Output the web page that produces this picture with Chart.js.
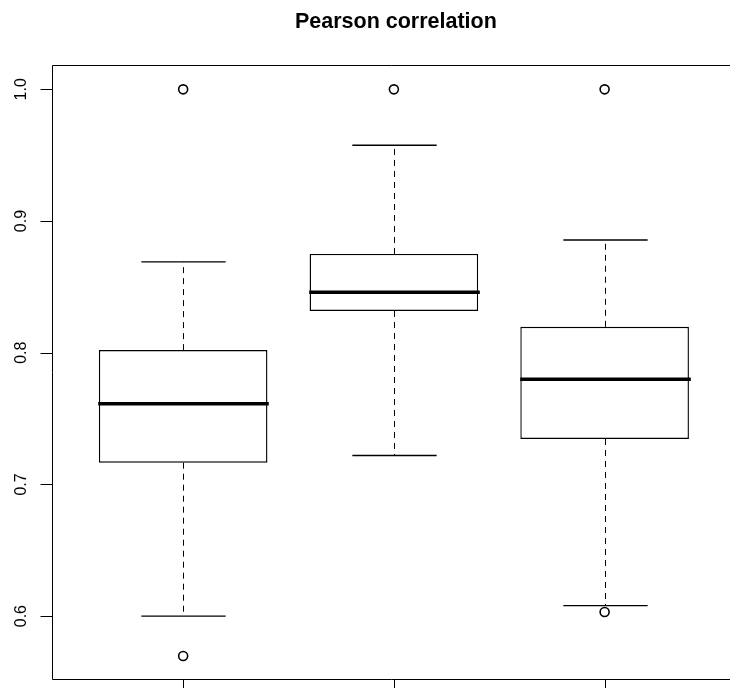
<!DOCTYPE html>
<html>
<head>
<meta charset="utf-8">
<title>Pearson correlation</title>
<script src="https://cdn.jsdelivr.net/npm/chart.js@4"></script>
<style>
  html, body { margin: 0; padding: 0; background: #fff; }
  canvas { display: block; }
</style>
</head>
<body>
<canvas id="boxChart" width="730" height="688"></canvas>
<script>
// Box statistics per group
const positions = [1, 2, 3];
const lowerWhisker = [0.600, 0.722, 0.608];
const q1 = [0.7165, 0.8317, 0.7345];
const medians = [0.7613, 0.8459, 0.7798];
const q3 = [0.802, 0.875, 0.8197];
const upperWhisker = [0.869, 0.9576, 0.8856];
const outliers = [[1.0, 0.5697], [1.0], [1.0, 0.6031]];
const yTicks = [0.6, 0.7, 0.8, 0.9, 1.0];
const titleText = 'Pearson correlation';

// Whiskers, staples and medians drawn on top of the box bars
const boxplotParts = {
    id: 'boxplotParts',
    afterDatasetsDraw(chart) {
        const { ctx, scales: { x, y } } = chart;
        const boxes = chart.getDatasetMeta(0).data;
        positions.forEach((pos, i) => {
            const cx = Math.round(x.getPixelForValue(pos)) + 0.5;
            const half = boxes[i].width / 2;
            ctx.save();
            ctx.strokeStyle = '#000';

            ctx.lineWidth = 1;
            ctx.setLineDash([6, 5]);
            ctx.beginPath();
            ctx.moveTo(cx, y.getPixelForValue(q3[i]));
            ctx.lineTo(cx, y.getPixelForValue(upperWhisker[i]));
            ctx.moveTo(cx, y.getPixelForValue(q1[i]));
            ctx.lineTo(cx, y.getPixelForValue(lowerWhisker[i]));
            ctx.stroke();

            ctx.setLineDash([]);
            ctx.lineWidth = 1.4;
            ctx.beginPath();
            [upperWhisker[i], lowerWhisker[i]].forEach(v => {
                const py = y.getPixelForValue(v);
                ctx.moveTo(cx - half / 2, py);
                ctx.lineTo(cx + half / 2, py);
            });
            ctx.stroke();

            ctx.lineWidth = 3.5;
            ctx.beginPath();
            const my = y.getPixelForValue(medians[i]);
            ctx.moveTo(cx - half - 1, my);
            ctx.lineTo(cx + half + 1, my);
            ctx.stroke();
            ctx.restore();
        });
    }
};

// Frame, axis ticks, rotated labels and title
const rAxes = {
    id: 'rAxes',
    afterDraw(chart) {
        const { ctx, chartArea: area, scales: { x, y } } = chart;
        ctx.save();
        ctx.strokeStyle = '#000';
        ctx.lineWidth = 1;
        ctx.beginPath();
        ctx.moveTo(chart.width + 5, area.top);
        ctx.lineTo(area.left, area.top);
        ctx.lineTo(area.left, area.bottom);
        ctx.lineTo(chart.width + 5, area.bottom);
        ctx.stroke();

        ctx.beginPath();
        yTicks.forEach(v => {
            const py = Math.round(y.getPixelForValue(v)) + 0.5;
            ctx.moveTo(area.left - 12, py);
            ctx.lineTo(area.left, py);
        });
        positions.forEach(v => {
            const px = Math.round(x.getPixelForValue(v)) + 0.5;
            ctx.moveTo(px, area.bottom);
            ctx.lineTo(px, area.bottom + 12);
        });
        ctx.stroke();

        ctx.fillStyle = '#000';
        ctx.font = '16px "Liberation Sans", Arial, sans-serif';
        ctx.textAlign = 'center';
        ctx.textBaseline = 'alphabetic';
        yTicks.forEach(v => {
            const py = y.getPixelForValue(v);
            ctx.save();
            ctx.translate(26, py);
            ctx.rotate(-Math.PI / 2);
            ctx.fillText(v.toFixed(1), 0, 0);
            ctx.restore();
        });

        ctx.font = 'bold 21.5px "Liberation Sans", Arial, sans-serif';
        ctx.fillText(titleText, x.getPixelForValue(2) + 2, 28);
        ctx.restore();
    }
};

function initBoxChart() {
    const el = document.getElementById('boxChart');
    if (!el) return;

    new Chart(el, {
        type: 'bar',
        data: {
            datasets: [{
                type: 'bar',
                data: positions.map((p, i) => ({ x: p, y: [q1[i], q3[i]] })),
                backgroundColor: '#fff',
                borderColor: '#000',
                borderWidth: 1.4,
                borderSkipped: false,
                categoryPercentage: 0.8,
                barPercentage: 1.0
            }, {
                type: 'scatter',
                data: outliers.flatMap((vals, i) => vals.map(v => ({ x: positions[i], y: v }))),
                pointStyle: 'circle',
                pointRadius: 4.5,
                pointBorderWidth: 1.6,
                pointBorderColor: '#000',
                pointBackgroundColor: 'rgba(0,0,0,0)'
            }]
        },
        options: {
            responsive: false,
            animation: false,
            devicePixelRatio: 1,
            layout: { padding: { left: 52.5, top: 65.5, right: 0, bottom: 8.5 } },
            plugins: {
                legend: { display: false },
                tooltip: { enabled: false }
            },
            scales: {
                x: {
                    type: 'linear',
                    display: false,
                    offset: false,
                    min: 0.38,
                    max: 3.566,
                    afterBuildTicks: scale => {
                        scale.ticks = positions.map(v => ({ value: v }));
                    }
                },
                y: {
                    type: 'linear',
                    display: false,
                    min: 0.5519,
                    max: 1.0181
                }
            }
        },
        plugins: [boxplotParts, rAxes]
    });
}

document.addEventListener('DOMContentLoaded', initBoxChart);
</script>
</body>
</html>
